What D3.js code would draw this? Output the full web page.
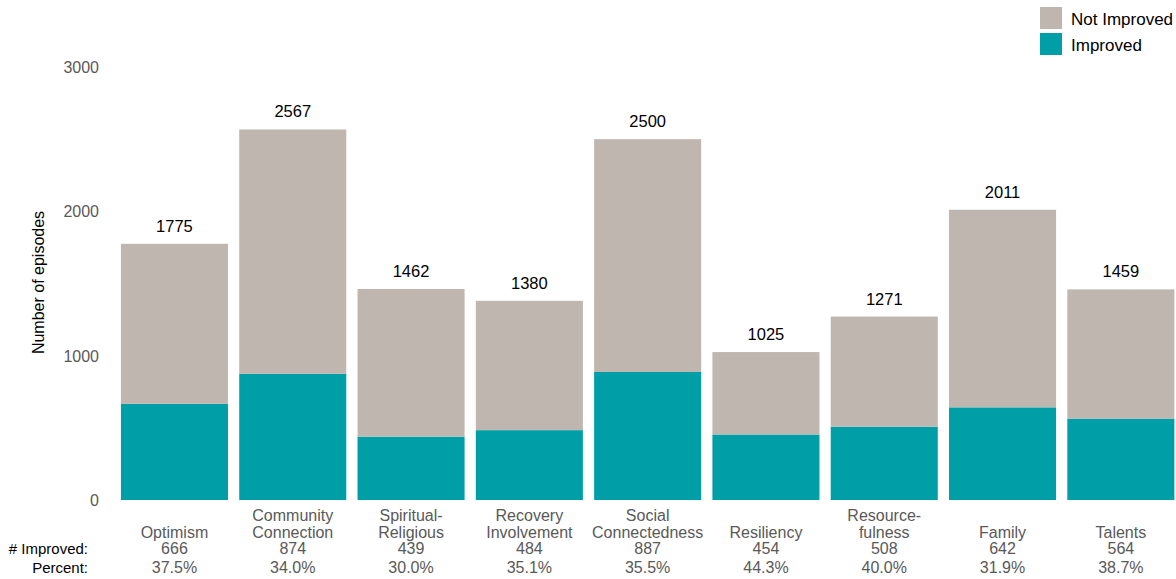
<!DOCTYPE html>
<html>
<head>
<meta charset="utf-8">
<script src="https://cdn.jsdelivr.net/npm/d3@7"></script>
<style>
  body { margin: 0; background: #fff; }
  text { font-family: Arial, "Liberation Sans", sans-serif; }
</style>
</head>
<body>
<div id="chart"></div>
<script>
// domains and their numbers
const domains = [
  ["Optimism"], ["Community", "Connection"], ["Spiritual-", "Religious"],
  ["Recovery", "Involvement"], ["Social", "Connectedness"], ["Resiliency"],
  ["Resource-", "fulness"], ["Family"], ["Talents"]
];
const totals = [1775, 2567, 1462, 1380, 2500, 1025, 1271, 2011, 1459];
const improved = [666, 874, 439, 484, 887, 454, 508, 642, 564];
const percents = ["37.5%", "34.0%", "30.0%", "35.1%", "35.5%", "44.3%", "40.0%", "31.9%", "38.7%"];
const yTicks = [0, 1000, 2000, 3000];
const seriesNames = ["Not Improved", "Improved"];

const width = 1176, height = 579;
const colors = { "Improved": "#009ea6", "Not Improved": "#bfb6af" };

const svg = d3.select("#chart").append("svg")
  .attr("width", width)
  .attr("height", height);

const keys = domains.map(d => d.join(" "));
const rows = keys.map((k, i) => ({ key: k, improved: improved[i], notImproved: totals[i] - improved[i], total: totals[i] }));

const x = d3.scaleBand()
  .domain(keys)
  .range([115.3, 1180])
  .paddingInner(0.095)
  .paddingOuter(0.0475);

const y = d3.scaleLinear().domain([0, 3000]).range([500, 67]);

// y tick labels (no axis line)
svg.selectAll("text.ytick")
  .data(yTicks)
  .enter().append("text")
  .attr("class", "ytick")
  .attr("x", 99)
  .attr("y", d => y(d) + 6)
  .attr("text-anchor", "end")
  .attr("font-size", 16)
  .attr("fill", "#595959")
  .text(d => d);

svg.append("text")
  .attr("transform", `translate(44, ${(y(0) + y(3000)) / 2 - 1}) rotate(-90)`)
  .attr("text-anchor", "middle")
  .attr("font-size", 16)
  .attr("fill", "#000")
  .text("Number of episodes");

// stacked bars
const bar = svg.selectAll("g.bar")
  .data(rows)
  .enter().append("g")
  .attr("class", "bar");

bar.append("rect")
  .attr("x", d => x(d.key))
  .attr("width", x.bandwidth())
  .attr("y", d => y(d.improved))
  .attr("height", d => y(0) - y(d.improved))
  .attr("fill", colors["Improved"]);

bar.append("rect")
  .attr("x", d => x(d.key))
  .attr("width", x.bandwidth())
  .attr("y", d => y(d.total))
  .attr("height", d => y(d.improved) - y(d.total))
  .attr("fill", colors["Not Improved"]);

bar.append("text")
  .attr("x", d => x(d.key) + x.bandwidth() / 2)
  .attr("y", d => y(d.total) - 12)
  .attr("text-anchor", "middle")
  .attr("font-size", 16.5)
  .attr("fill", "#000")
  .text(d => d.total);

// category labels and stats under bars
const lab = svg.selectAll("g.lab")
  .data(domains)
  .enter().append("g")
  .attr("class", "lab")
  .attr("transform", (d, i) => `translate(${x(keys[i]) + x.bandwidth() / 2}, 0)`);

lab.each(function(d, i) {
  const g = d3.select(this);
  d.forEach((line, j) => {
    g.append("text")
      .attr("y", 537.5 - (d.length - 1 - j) * 16.5)
      .attr("text-anchor", "middle")
      .attr("font-size", 16)
      .attr("fill", "#595959")
      .text(line);
  });
  g.append("text")
    .attr("y", 554)
    .attr("text-anchor", "middle")
    .attr("font-size", 16)
    .attr("fill", "#595959")
    .text(improved[i]);
  g.append("text")
    .attr("y", 572.5)
    .attr("text-anchor", "middle")
    .attr("font-size", 16)
    .attr("fill", "#595959")
    .text(percents[i]);
});

svg.append("text")
  .attr("x", 88).attr("y", 554)
  .attr("text-anchor", "end")
  .attr("font-size", 15)
  .attr("fill", "#000")
  .text("# Improved:");

svg.append("text")
  .attr("x", 88).attr("y", 572.5)
  .attr("text-anchor", "end")
  .attr("font-size", 15)
  .attr("fill", "#000")
  .text("Percent:");

// legend
const legend = svg.selectAll("g.legend")
  .data(seriesNames)
  .enter().append("g")
  .attr("class", "legend")
  .attr("transform", (d, i) => `translate(1040, ${7 + i * 26})`);

legend.append("rect")
  .attr("width", 22)
  .attr("height", 22)
  .attr("fill", d => colors[d]);

legend.append("text")
  .attr("x", 31)
  .attr("y", 17.5)
  .attr("font-size", 17)
  .attr("fill", "#000")
  .text(d => d);
</script>
</body>
</html>
